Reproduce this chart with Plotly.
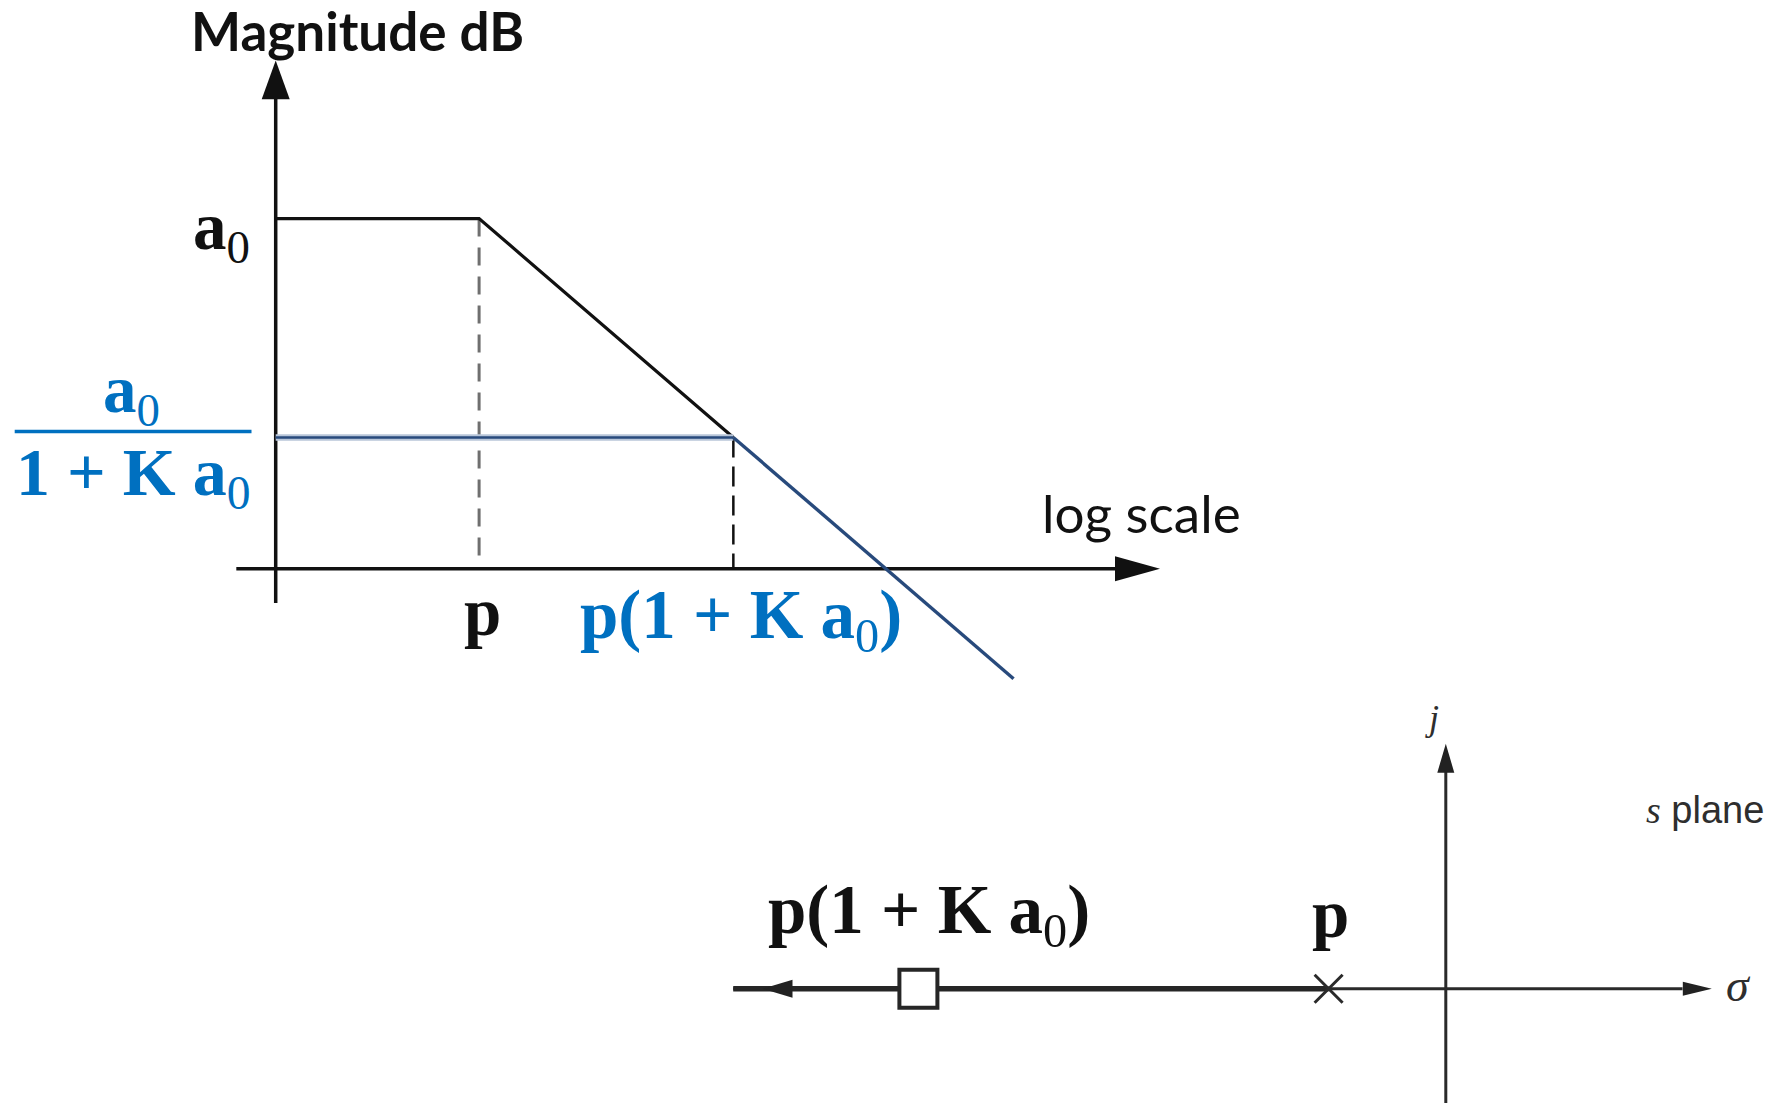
import numpy as np
import plotly.graph_objects as go

W, H = 1776, 1103

# ---------------- Bode magnitude plot (asymptotic) ----------------
# frequencies in rad/s, magnitudes in dB
A0_DB = 80             # open-loop dc gain a0
ACL_DB = 30            # closed-loop gain a0 / (1 + K a0)
POLE = 100             # open-loop pole p
POLE_CL = 31623        # closed-loop pole p(1 + K a0)
F_END = 1.8e7          # last plotted frequency
DB_END = -25.1         # asymptote value at F_END

open_loop_freq = [1, POLE, POLE_CL]
open_loop_db = [A0_DB, A0_DB, ACL_DB]
closed_flat_freq = [1, POLE_CL]
closed_flat_db = [ACL_DB, ACL_DB]
closed_roll_freq = [POLE_CL, F_END]
closed_roll_db = [ACL_DB, DB_END]

freq_axis_span = [0.41, 3.3e8]     # drawn extent of the frequency axis
freq_axis_tip = 4.96e8
db_axis_span = [-7.8, 107.3]        # drawn extent of the magnitude axis
db_axis_tip = 116.1

# ---------------- s plane ----------------
sigma_axis_span = [-6.08, 2.02]
sigma_axis_tip = 2.27
jw_axis_span = [-1.0, 1.85]
jw_axis_tip = 2.09
locus_sigma = [-1.0, -6.08]          # pole moves left as K grows
locus_arrow_tip = -5.83
open_pole = [-1.0]
closed_pole = [-4.5]

# placement of the two coordinate systems on the page (pixels)
BODE_X0, BODE_PX_PER_DEC = 275.7, 101.7
BODE_Y0, BODE_PX_PER_DB = 568.8, 4.3775
S_X0, S_Y0, S_PX_PER_UNIT = 1445.8, 988.7, 117.2

bode_xrange = [-BODE_X0 / BODE_PX_PER_DEC, (W - BODE_X0) / BODE_PX_PER_DEC]
bode_yrange = [-(H - BODE_Y0) / BODE_PX_PER_DB, BODE_Y0 / BODE_PX_PER_DB]
s_xrange = [-S_X0 / S_PX_PER_UNIT, (W - S_X0) / S_PX_PER_UNIT]
s_yrange = [-(H - S_Y0) / S_PX_PER_UNIT, S_Y0 / S_PX_PER_UNIT]

BLACK = "#111111"
GRAY_TXT = "#2e2e2e"
BLUE_TXT = "#0070C0"
NAVY = "#284a7c"
HALO = "#b8c6d9"
SERIF = "Liberation Serif"
SANS = "Lato"

fig = go.Figure()

def line(x, y, color, width, dash=None, axes=("x", "y")):
    fig.add_trace(go.Scatter(
        x=x, y=y, mode="lines", xaxis=axes[0], yaxis=axes[1],
        line=dict(color=color, width=width, dash=dash),
        hoverinfo="skip", showlegend=False))

# Bode axes
line(freq_axis_span, [0, 0], BLACK, 3.5)
line([1, 1], db_axis_span, BLACK, 3.5)

# guide lines at the two corner frequencies
line([POLE, POLE], [A0_DB, 2.5], "#6f6f6f", 3, dash="18px,11px")
line([POLE_CL, POLE_CL], [ACL_DB, 0], BLACK, 2.5, dash="20px,9px")

# open-loop response
line(open_loop_freq, open_loop_db, BLACK, 3.2)
# closed-loop response
line(closed_flat_freq, closed_flat_db, HALO, 6.5)
line(closed_flat_freq, closed_flat_db, NAVY, 2.6)
line(closed_roll_freq, closed_roll_db, NAVY, 3.4)

# s-plane axes and root locus
S = ("x2", "y2")
line(sigma_axis_span, [0, 0], "#2a2a2a", 3, axes=S)
line([0, 0], jw_axis_span, "#2a2a2a", 3, axes=S)
line(locus_sigma, [0, 0], "#262626", 5.5, axes=S)

fig.add_trace(go.Scatter(
    x=closed_pole, y=[0], mode="markers", xaxis="x2", yaxis="y2",
    marker=dict(symbol="square", size=38, color="white",
                line=dict(color="#262626", width=4)),
    hoverinfo="skip", showlegend=False))
fig.add_trace(go.Scatter(
    x=open_pole, y=[0], mode="markers", xaxis="x2", yaxis="y2",
    marker=dict(symbol="x-thin", size=28, color="#2a2a2a",
                line=dict(color="#2a2a2a", width=3)),
    hoverinfo="skip", showlegend=False))

# arrowheads, drawn in pixel units around each tip (anchors in data units)
def arrowhead(xref, yref, x, y, path, color):
    fig.add_shape(type="path", xref=xref, yref=yref,
                  xsizemode="pixel", ysizemode="pixel",
                  xanchor=x, yanchor=y, path=path,
                  fillcolor=color, line=dict(width=0), layer="above")

arrowhead("x", "y", freq_axis_tip, 0, "M0,0 L-45,12.5 L-45,-12.5 Z", BLACK)
arrowhead("x", "y", 1, db_axis_tip, "M0,0 L-14,-38.6 L14,-38.6 Z", BLACK)
arrowhead("x2", "y2", sigma_axis_tip, 0, "M0,0 L-29,7 L-29,-7 Z", "#222222")
arrowhead("x2", "y2", 0, jw_axis_tip, "M0,0 L-8.5,-29 L8.5,-29 Z", "#222222")
arrowhead("x2", "y2", locus_arrow_tip, 0, "M0,0 L30,9 L30,-9 Z", "#222222")

# fraction bar of the closed-loop gain label
fig.add_shape(type="line", xref="paper", yref="paper",
              x0=14.7 / W, x1=251.5 / W, y0=1 - 431.6 / H, y1=1 - 431.6 / H,
              line=dict(color=BLUE_TXT, width=3.5))

def label(text, x, y, size, color, family, xref="paper", yref="paper",
          xanchor="center", yanchor="middle", xshift=0, yshift=0):
    if xref == "paper":
        x = x / W
    if yref == "paper":
        y = 1 - y / H
    fig.add_annotation(text=text, x=x, y=y, xref=xref, yref=yref,
                       xanchor=xanchor, yanchor=yanchor,
                       xshift=xshift, yshift=yshift, showarrow=False,
                       font=dict(size=size, color=color, family=family))

A0_TXT = "<b>a</b><sub>0</sub>"
PCL_TXT = "<b>p(1 + K a</b><sub>0</sub><b>)</b>"

label("<b>Magnitude dB</b>", 357, 30, 53, BLACK, SANS)
label("log scale", 1141, 512, 53, BLACK, SANS)
label(A0_TXT, 0, A0_DB, 67, BLACK, SERIF, xref="x", yref="y",
      xanchor="right", xshift=-24, yshift=-12)
label(A0_TXT, 131, 394, 67, BLUE_TXT, SERIF)
label("<b>1 + K a</b><sub>0</sub>", 133, 476, 68, BLUE_TXT, SERIF)
label("<b>p</b>", np.log10(POLE), 0, 67, BLACK, SERIF, xref="x", yref="y",
      yanchor="top", xshift=3, yshift=-4)
label(PCL_TXT, np.log10(POLE_CL), 0, 69, BLUE_TXT, SERIF, xref="x", yref="y",
      yanchor="top", xshift=8, yshift=-6)

label(PCL_TXT, closed_pole[0], 0, 69, BLACK, SERIF, xref="x2", yref="y2",
      yanchor="bottom", xshift=11, yshift=30)
label("<b>p</b>", open_pole[0], 0, 67, BLACK, SERIF, xref="x2", yref="y2",
      yanchor="bottom", xshift=2, yshift=36)
label("<i>j</i>", 1432, 718, 36, GRAY_TXT, SERIF)
label("<span style='font-family:Liberation Serif'><i>s</i></span> plane",
      1705, 810, 38, GRAY_TXT, "Liberation Sans")
label("<i>σ</i>", 1738, 985, 46, GRAY_TXT, SERIF)

hidden = dict(visible=False, fixedrange=True)
fig.update_layout(
    width=W, height=H, autosize=False,
    margin=dict(l=0, r=0, t=0, b=0),
    paper_bgcolor="white", plot_bgcolor="white",
    xaxis=dict(type="log", range=bode_xrange, domain=[0, 1], **hidden),
    yaxis=dict(range=bode_yrange, domain=[0, 1], **hidden),
    xaxis2=dict(range=s_xrange, overlaying="x", anchor="y2", **hidden),
    yaxis2=dict(range=s_yrange, overlaying="y", anchor="x2", **hidden),
    showlegend=False,
)

fig.write_html("out.html")
